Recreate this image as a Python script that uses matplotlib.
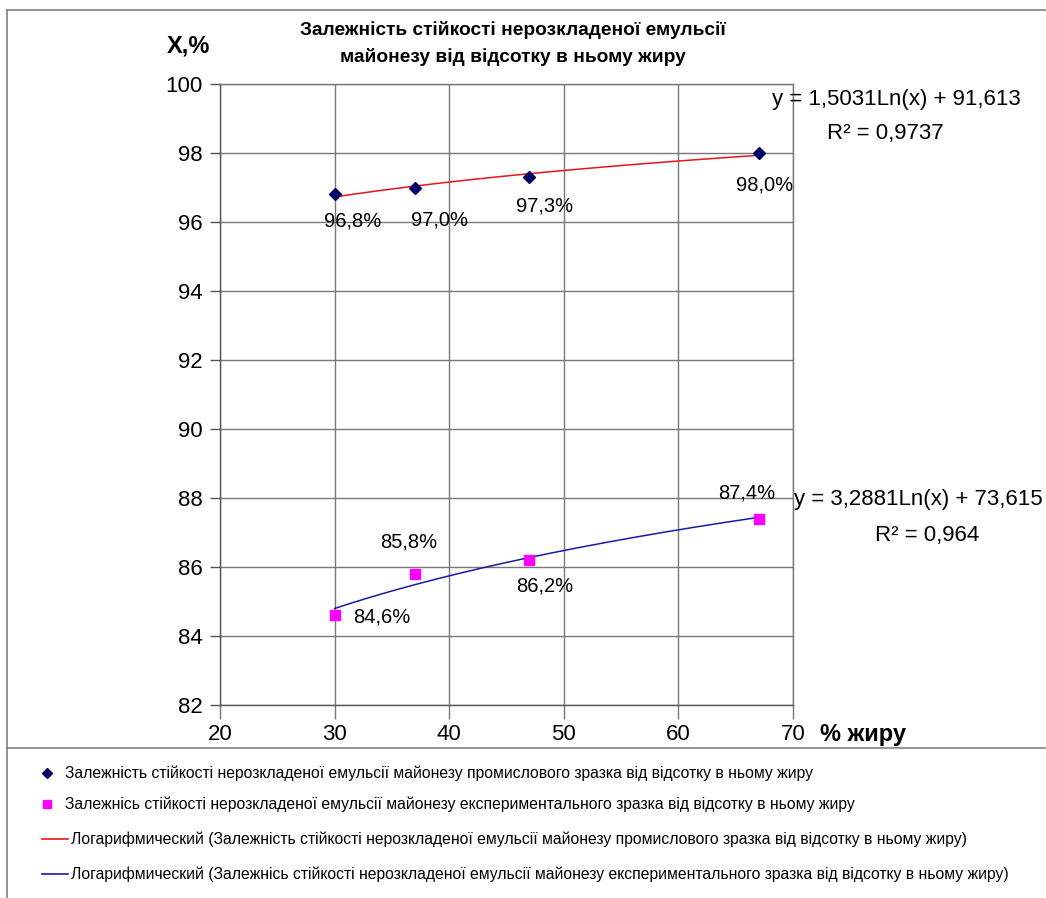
import numpy as np
import matplotlib
matplotlib.use("Agg")
import matplotlib.pyplot as plt
from matplotlib.lines import Line2D

# ---------------- data ----------------
fat_pct = [30, 37, 47, 67]
industrial = [96.8, 97.0, 97.3, 98.0]
experimental = [84.6, 85.8, 86.2, 87.4]
industrial_labels = ["96,8%", "97,0%", "97,3%", "98,0%"]
experimental_labels = ["84,6%", "85,8%", "86,2%", "87,4%"]
x_ticks = [20, 30, 40, 50, 60, 70]
y_ticks = [82, 84, 86, 88, 90, 92, 94, 96, 98, 100]

title_lines = ["Залежність стійкості нерозкладеної емульсії",
               "майонезу від відсотку в ньому жиру"]
y_label = "X,%"
x_label = "% жиру"
eq_industrial = ["y = 1,5031Ln(x) + 91,613", "R² = 0,9737"]
eq_experimental = ["y = 3,2881Ln(x) + 73,615", "R² = 0,964"]
legend_labels = [
    "Залежність стійкості нерозкладеної емульсії майонезу промислового зразка від відсотку в ньому жиру",
    "Залежнісь стійкості нерозкладеної емульсії майонезу експериментального зразка від відсотку в ньому жиру",
    "Логарифмический (Залежність стійкості нерозкладеної емульсії майонезу промислового зразка від відсотку в ньому жиру)",
    "Логарифмический (Залежнісь стійкості нерозкладеної емульсії майонезу експериментального зразка від відсотку в ньому жиру)",
]

plt.rcParams["font.family"] = ["Liberation Sans", "DejaVu Sans"]

W, H = 1046, 898
fig = plt.figure(figsize=(W / 100, H / 100), dpi=100)
fig.patch.set_facecolor("white")

ax = fig.add_axes([220 / W, 1 - 705 / H, (793 - 220) / W, (705 - 84) / H])
ax.set_xlim(20, 70)
ax.set_ylim(82, 100)
ax.set_xticks(x_ticks)
ax.set_yticks(y_ticks)
ax.grid(True, color="#777777", linewidth=1.0)
ax.set_axisbelow(True)
for s in ax.spines.values():
    s.set_color("#777777")
    s.set_linewidth(1.0)
ax.spines["left"].set_color("#555555")
ax.spines["bottom"].set_color("#555555")
ax.tick_params(axis="y", length=7, width=1, color="#555555", pad=5.5, labelsize=16)
ax.tick_params(axis="x", length=10, width=1, color="#777777", pad=4, labelsize=16)

# trendlines (logarithmic fits)
xf = np.linspace(min(fat_pct), max(fat_pct), 200)
a1, b1 = np.polyfit(np.log(fat_pct), industrial, 1)
a2, b2 = np.polyfit(np.log(fat_pct), experimental, 1)
ax.plot(xf, a1 * np.log(xf) + b1, color="#e8141b", lw=1.1, zorder=3)
ax.plot(xf, a2 * np.log(xf) + b2, color="#1a1aa6", lw=1.1, zorder=3)

ax.plot(fat_pct, industrial, linestyle="none", marker="D", markersize=6.5,
        color="#000066", zorder=4)
ax.plot(fat_pct, experimental, linestyle="none", marker="s", markersize=6.5,
        color="#ff00ff", zorder=4)

# data labels (offsets in pixels)
ind_off = [(18, -27), (25, -33), (15, -29), (6, -32)]
exp_off = [(47, -2), (-6, 32), (15, -26), (-12, 26)]
for x, y, t, (dx, dy) in zip(fat_pct, industrial, industrial_labels, ind_off):
    ax.annotate(t, (x, y), xytext=(dx, dy), textcoords="offset pixels",
                ha="center", va="center", fontsize=14.5, zorder=5)
for x, y, t, (dx, dy) in zip(fat_pct, experimental, experimental_labels, exp_off):
    ax.annotate(t, (x, y), xytext=(dx, dy), textcoords="offset pixels",
                ha="center", va="center", fontsize=14.5, zorder=5)

# equations
fig.text(896 / W, 1 - 100 / H, eq_industrial[0], ha="center", va="center", fontsize=16)
fig.text(885 / W, 1 - 133 / H, eq_industrial[1], ha="center", va="center", fontsize=16)
fig.text(1043 / W, 1 - 500 / H, eq_experimental[0], ha="right", va="center", fontsize=16)
fig.text(927 / W, 1 - 536 / H, eq_experimental[1], ha="center", va="center", fontsize=16)

# titles / axis labels
fig.text(513 / W, 1 - 30 / H, title_lines[0], ha="center", va="center",
         fontsize=13.8, fontweight="bold")
fig.text(513 / W, 1 - 57 / H, title_lines[1], ha="center", va="center",
         fontsize=13.8, fontweight="bold")
fig.text(188 / W, 1 - 46 / H, y_label, ha="center", va="center",
         fontsize=17, fontweight="bold")
fig.text(820 / W, 1 - 734 / H, x_label, ha="left", va="center",
         fontsize=17, fontweight="bold")

# frame lines of chart area
bc = "#808080"
fig.add_artist(Line2D([7 / W, 7 / W], [0, 1 - 10 / H], color=bc, lw=1.2))
fig.add_artist(Line2D([7 / W, 1], [1 - 10 / H, 1 - 10 / H], color=bc, lw=1.2))
fig.add_artist(Line2D([7 / W, 1], [1 - 748 / H, 1 - 748 / H], color=bc, lw=1.2))

# legend (manual)
rows = [773, 804, 839, 874]
fig.add_artist(Line2D([47 / W], [1 - rows[0] / H], marker="D", markersize=5.5,
                      color="#000066", linestyle="none"))
fig.add_artist(Line2D([47 / W], [1 - rows[1] / H], marker="s", markersize=5.5,
                      color="#ff00ff", linestyle="none"))
fig.add_artist(Line2D([42 / W, 68 / W], [1 - rows[2] / H] * 2, color="#e8141b", lw=1.2))
fig.add_artist(Line2D([42 / W, 68 / W], [1 - rows[3] / H] * 2, color="#1a1aa6", lw=1.2))
tx = [65, 65, 71, 71]
for r, x0, lab in zip(rows, tx, legend_labels):
    fig.text(x0 / W, 1 - r / H, lab, ha="left", va="center", fontsize=11.3)

fig.savefig("out.png", dpi=100, facecolor="white")
